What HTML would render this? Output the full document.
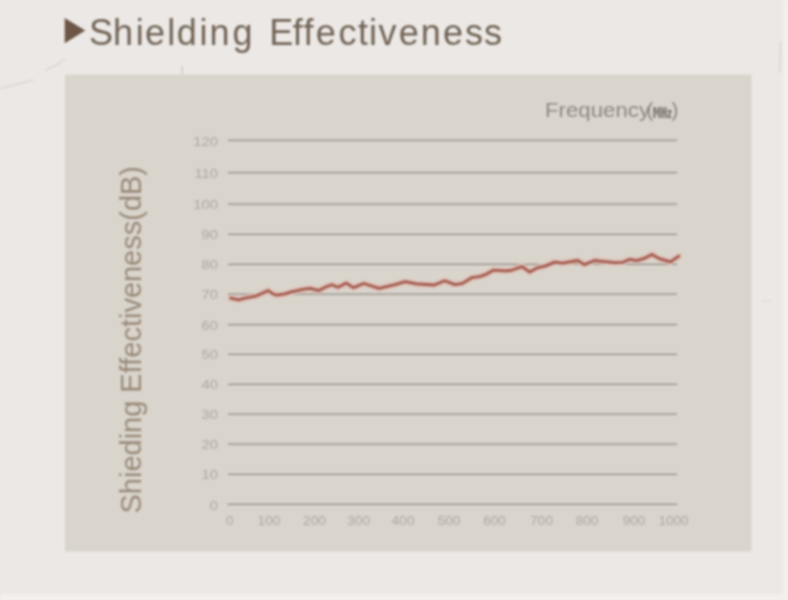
<!DOCTYPE html>
<html>
<head>
<meta charset="utf-8">
<style>
html,body{margin:0;padding:0;width:788px;height:600px;overflow:hidden;background:#ebe8e5;}
svg{display:block;filter:blur(0.8px);}
.t{font-family:"Liberation Sans","Noto Sans CJK KR",sans-serif;}
</style>
</head>
<body>
<svg width="788" height="600" viewBox="0 0 788 600">
  <defs>
    <linearGradient id="gb" x1="0" y1="0" x2="0" y2="1"><stop offset="0" stop-color="#f5f2f0" stop-opacity="0"/><stop offset="1" stop-color="#f6f3f1" stop-opacity="1"/></linearGradient>
    <linearGradient id="gr" x1="0" y1="0" x2="1" y2="0"><stop offset="0" stop-color="#f5f2f0" stop-opacity="0"/><stop offset="1" stop-color="#f5f2f0" stop-opacity="1"/></linearGradient>
  </defs>
  <rect x="0" y="0" width="788" height="600" fill="#ebe8e5"/>
  <rect x="0" y="591" width="788" height="9" fill="url(#gb)"/>
  <rect x="780" y="0" width="8" height="600" fill="url(#gr)"/>
  <!-- faint scan marks -->
  <g fill="none" stroke="#d6d3d0" stroke-width="1.2" stroke-linecap="round">
    <path d="M0,88.5 C8,87 18,84 24.4,82.4 S30,80.5 33,80"/>
    <path d="M45.7,70.2 C50,68 54,66 56.9,64.6 S62,60.5 65,59"/>
    <path d="M182,67 L182.5,75" stroke="#cfcbc7" stroke-width="1.5"/>
    <path d="M762,301 L771,301" stroke="#dcd9d6"/>
    <path d="M780.5,42 L780,72" stroke="#d9d6d3" stroke-width="1.6"/>
  </g>
  <!-- panel -->
  <rect x="65" y="74.5" width="686.5" height="477" fill="#d9d4cc"/>

  <!-- title -->
  <polygon points="64.7,18 85.3,30.5 64.7,43.3" fill="#6d5646"/>
  <text class="t" x="88.9 112.9 135.8 145.1 167.2 176.8 199.5 209.4 232.6" y="44.5" font-size="36" fill="#726456">Shielding</text>
  <text class="t" x="269.2 292.8 303.6 315.7 338.6 358.1 368.9 378.4 398.8 420.7 443.1 464.9 484.1" y="44.5" font-size="36" fill="#726456">Effectiveness</text>

  <!-- frequency label -->
  <text class="t" x="545" y="116.7" font-size="20.5" fill="#8d8883" textLength="105" lengthAdjust="spacingAndGlyphs">Frequency</text>
  <text class="t" x="646.6" y="116.7" font-size="20.5" fill="#8d8883">(</text>
  <text class="t" x="652.8" y="116.5" font-size="13" fill="#76716c" font-weight="bold" textLength="19" lengthAdjust="spacingAndGlyphs">㎒</text>
  <text class="t" x="671.5" y="116.7" font-size="20.5" fill="#8d8883">)</text>

  <!-- y axis title -->
  <text class="t" transform="translate(141,513.5) rotate(-90)" x="0" y="0" font-size="29" fill="#998a79" textLength="347.5" lengthAdjust="spacingAndGlyphs">Shieding Effectiveness(dB)</text>

  <!-- grid lines -->
  <g stroke="#918b85" stroke-width="1.25" fill="none">
    <line x1="228" y1="140.4" x2="677" y2="140.4"/>
    <line x1="228" y1="172.5" x2="677" y2="172.5"/>
    <line x1="228" y1="204.2" x2="677" y2="204.2"/>
    <line x1="228" y1="234.3" x2="677" y2="234.3"/>
    <line x1="228" y1="264.3" x2="677" y2="264.3"/>
    <line x1="228" y1="294" x2="677" y2="294"/>
    <line x1="228" y1="324.7" x2="677" y2="324.7"/>
    <line x1="228" y1="354.3" x2="677" y2="354.3"/>
    <line x1="228" y1="384.3" x2="677" y2="384.3"/>
    <line x1="228" y1="414" x2="677" y2="414"/>
    <line x1="228" y1="444.2" x2="677" y2="444.2"/>
    <line x1="228" y1="474.4" x2="677" y2="474.4"/>
    <line x1="227.5" y1="504.3" x2="677" y2="504.3"/>
  </g>

  <!-- y labels -->
  <g class="t" font-size="13.2" fill="#aea8a2" text-anchor="end">
    <text transform="translate(218,145.5) scale(1.12,1)">120</text>
    <text transform="translate(218,177.6) scale(1.12,1)">110</text>
    <text transform="translate(218,209.3) scale(1.12,1)">100</text>
    <text transform="translate(218,239.4) scale(1.12,1)">90</text>
    <text transform="translate(218,269.4) scale(1.12,1)">80</text>
    <text transform="translate(218,299.1) scale(1.12,1)">70</text>
    <text transform="translate(218,329.8) scale(1.12,1)">60</text>
    <text transform="translate(218,359.4) scale(1.12,1)">50</text>
    <text transform="translate(218,389.4) scale(1.12,1)">40</text>
    <text transform="translate(218,419.1) scale(1.12,1)">30</text>
    <text transform="translate(218,448.8) scale(1.12,1)">20</text>
    <text transform="translate(218,479.1) scale(1.12,1)">10</text>
    <text transform="translate(218,509.7) scale(1.12,1)">0</text>
  </g>

  <!-- x labels -->
  <g class="t" font-size="13.2" fill="#aea8a2" text-anchor="middle">
    <text transform="translate(229.8,524.8) scale(1.03,1)">0</text>
    <text transform="translate(268.9,524.8) scale(1.03,1)">100</text>
    <text transform="translate(314.4,524.8) scale(1.03,1)">200</text>
    <text transform="translate(358.6,524.8) scale(1.03,1)">300</text>
    <text transform="translate(403.1,524.8) scale(1.03,1)">400</text>
    <text transform="translate(449.0,524.8) scale(1.03,1)">500</text>
    <text transform="translate(494.5,524.8) scale(1.03,1)">600</text>
    <text transform="translate(541.6,524.8) scale(1.03,1)">700</text>
    <text transform="translate(587.0,524.8) scale(1.03,1)">800</text>
    <text transform="translate(634.0,524.8) scale(1.03,1)">900</text>
    <text transform="translate(673.5,524.8) scale(1.03,1)">1000</text>
  </g>

  <!-- data line -->
  <polyline fill="none" stroke="#dfc1b7" stroke-width="6.5" stroke-linejoin="round" stroke-linecap="round" points="230.7,298.1 238.7,299.8 244,298.4 255.5,296.2 268.4,290.5 272.2,293.5 276.8,295.2 285,293.9 291.4,291.9 302.8,289.3 310.5,288.3 318.8,290.6 325.7,287 331.8,284.7 338,287.3 346.4,283.1 353.3,287.6 363.9,283.5 379.2,288.4 395,284.6 405.2,281.7 416.7,283.9 434.2,285 444.8,280.8 454.9,284.6 462.5,283.4 471.7,277.7 479.3,276.6 486.1,274.3 493.7,270.1 505,270.9 510.7,270.5 522.1,266.6 529.7,272 536.6,268.2 545.7,265.9 554.8,262.1 562.6,263.1 577.8,260.5 584.3,264.6 594.6,260.5 604.5,261.6 615,262.7 622.9,262.3 629.8,259.3 636.7,260.6 643.5,258.7 652,254.5 659.3,258.6 670.5,261.9 678.8,256.2"/>
  <polyline fill="none" stroke="#a25b4f" stroke-width="2.8" stroke-linejoin="round" stroke-linecap="round"
    points="230.7,298.1 238.7,299.8 244,298.4 255.5,296.2 268.4,290.5 272.2,293.5 276.8,295.2 285,293.9 291.4,291.9 302.8,289.3 310.5,288.3 318.8,290.6 325.7,287 331.8,284.7 338,287.3 346.4,283.1 353.3,287.6 363.9,283.5 379.2,288.4 395,284.6 405.2,281.7 416.7,283.9 434.2,285 444.8,280.8 454.9,284.6 462.5,283.4 471.7,277.7 479.3,276.6 486.1,274.3 493.7,270.1 505,270.9 510.7,270.5 522.1,266.6 529.7,272 536.6,268.2 545.7,265.9 554.8,262.1 562.6,263.1 577.8,260.5 584.3,264.6 594.6,260.5 604.5,261.6 615,262.7 622.9,262.3 629.8,259.3 636.7,260.6 643.5,258.7 652,254.5 659.3,258.6 670.5,261.9 678.8,256.2"/>
</svg>
</body>
</html>
